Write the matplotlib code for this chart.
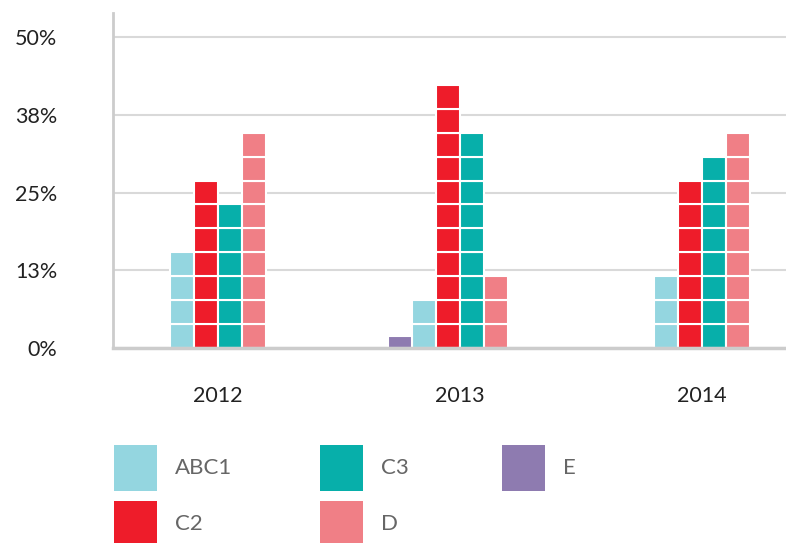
import numpy as np
import matplotlib
matplotlib.use("Agg")
import matplotlib.pyplot as plt
from matplotlib.patches import Rectangle

plt.rcParams['font.family'] = ['Lato', 'DejaVu Sans']

# data (percent)
years = ['2012', '2013', '2014']
series = ['ABC1', 'C2', 'C3', 'D', 'E']
abc1 = [15.4, 7.7, 11.5]
c2 = [26.9, 42.3, 26.9]
c3 = [23.1, 34.6, 30.8]
d = [34.6, 11.5, 34.6]
e = [0, 1.9, 0]
values = [abc1, c2, c3, d, e]
colors = ['#94D6E0', '#EE1C2A', '#07AFAA', '#F07F86', '#8E7BB0']
yticks = [0, 12.5, 25, 37.5, 50]
ytick_labels = ['0%', '13%', '25%', '38%', '50%']

W, H = 786, 543
block = 100 / 26  # each square tile
slot = 24 / 242    # slot width in category units
offsets = {'E': -2.5, 'ABC1': -1.5, 'C2': -0.5, 'C3': 0.5, 'D': 1.5}

fig = plt.figure(figsize=(W / 100, H / 100), dpi=100)
ax = fig.add_axes([113 / W, 1 - 348 / H, 673 / W, 335 / H])

x = np.arange(len(years))
for name, vals, col in zip(series, values, colors):
    xs = x + offsets[name] * slot
    for xi, v in zip(xs, vals):
        n_full = int(np.floor(v / block + 1e-6))
        heights = [block] * n_full
        rest = v - n_full * block
        if rest > 0.05:
            heights.append(rest)
        bottom = 0
        for h in heights:
            ax.bar(xi, h, width=slot, bottom=bottom, color=col,
                   edgecolor='white', linewidth=1.5, zorder=3)
            bottom += h

ax.set_xlim(-0.434, 2.347)
ax.set_ylim(0, 53.86)
ax.set_yticks(yticks)
ax.set_yticklabels(ytick_labels)
ax.set_xticks(x)
ax.set_xticklabels(years)
ax.tick_params(axis='y', length=0, pad=40, labelsize=15.5, labelcolor='#222222')
ax.tick_params(axis='x', length=0, pad=27, labelsize=15.5, labelcolor='#222222')
ax.grid(axis='y', color='#d9d9d9', linewidth=1.5, zorder=0)
ax.set_axisbelow(True)
for s in ['top', 'right']:
    ax.spines[s].set_visible(False)
ax.spines['left'].set_color('#cccccc')
ax.spines['left'].set_linewidth(2)
ax.spines['bottom'].set_color('#cccccc')
ax.spines['bottom'].set_linewidth(2.5)
ax.spines['bottom'].set_zorder(5)

# legend drawn by hand: 3 columns, filled column by column
col_x = [114, 320, 502]
row_y = [445, 501]
sq_w, sq_h = 43, 46
for i, (name, col) in enumerate(zip(series, colors)):
    cx = col_x[i // 2]
    ry = row_y[i % 2]
    fig.add_artist(Rectangle((cx / W, 1 - (ry + sq_h) / H), sq_w / W, sq_h / H,
                             transform=fig.transFigure, facecolor=col,
                             edgecolor='none'))
    fig.text((cx + 61) / W, 1 - (ry + 23) / H, name, fontsize=16,
             color='#666666', va='center', ha='left')

fig.savefig('out.png', dpi=100)
